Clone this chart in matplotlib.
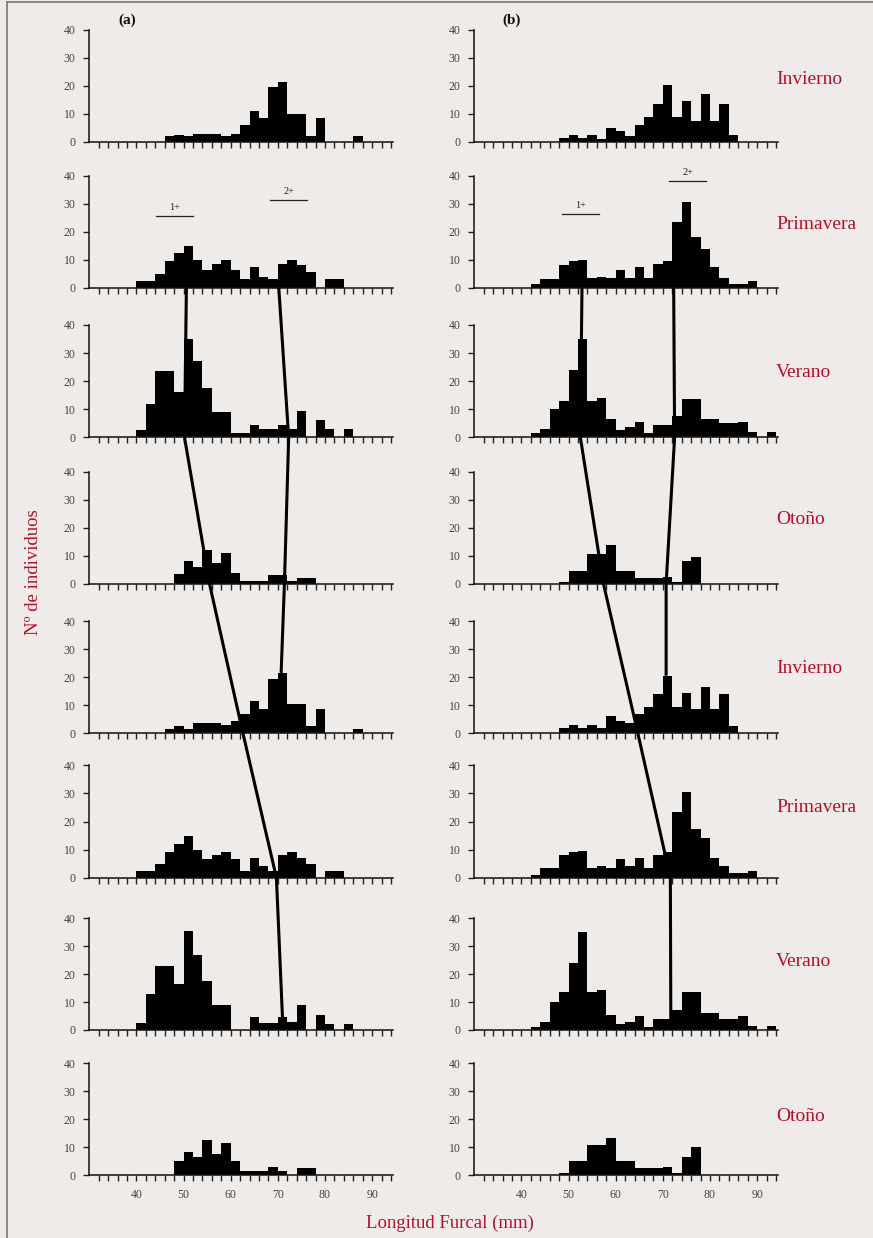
import numpy as np
import matplotlib
matplotlib.use("Agg")
import matplotlib.pyplot as plt
from matplotlib.patches import ConnectionPatch
from matplotlib.lines import Line2D

plt.rcParams["font.family"] = ["Liberation Serif", "DejaVu Serif"]

# 2 mm length classes, left edges 40..92
bin_left = np.arange(40, 94, 2)

# column (a)
a_invierno_1 = [0, 0, 0, 2, 2.5, 2, 3, 3, 3, 2, 3, 6, 11, 8.5, 19.5, 21.5, 10, 10, 2, 8.5, 0, 0, 0, 2, 0, 0, 0]
a_primavera_1 = [2.5, 2.5, 5, 9.5, 12.5, 15, 10, 6.5, 8.5, 10, 6.5, 3, 7.5, 4, 3, 8.5, 10, 8, 5.5, 0, 3, 3, 0, 0, 0, 0, 0]
a_verano_1 = [2.5, 12, 23.5, 23.5, 16, 35, 27, 17.5, 9, 9, 1.5, 1.5, 4.5, 3, 3, 4.5, 3, 9.5, 0, 6, 3, 0, 3, 0, 0, 0, 0]
a_otono_1 = [0, 0, 0, 0, 3.5, 8, 6, 12, 7.5, 11, 4, 1, 1, 1, 3, 3, 1, 2, 2, 0, 0, 0, 0, 0, 0, 0, 0]
a_invierno_2 = [0, 0, 0, 1.5, 2.5, 1.5, 3.5, 3.5, 3.5, 3, 4.5, 7, 11.5, 8.5, 19.5, 21.5, 10.5, 10.5, 2.5, 8.5, 0, 0, 0, 1.5, 0, 0, 0]
a_primavera_2 = [2.5, 2.5, 5, 9, 12, 15, 10, 6.5, 8, 9, 6.5, 2.5, 7, 4, 2.5, 8, 9, 7, 5, 0, 2.5, 2.5, 0, 0, 0, 0, 0]
a_verano_2 = [2.5, 13, 23, 23, 16.5, 35.5, 27, 17.5, 9, 9, 0, 0, 4.5, 2.5, 2.5, 4.5, 3, 9, 0, 5.5, 2, 0, 2, 0, 0, 0, 0]
a_otono_2 = [0, 0, 0, 0, 5, 8.5, 6.5, 12.5, 7.5, 11.5, 5, 1.5, 1.5, 1.5, 3, 1.5, 0, 2.5, 2.5, 0, 0, 0, 0, 0, 0, 0, 0]

# column (b)
b_invierno_1 = [0, 0, 0, 0, 1.5, 2.5, 1.5, 2.5, 1, 5, 4, 2, 6, 9, 13.5, 20.5, 9, 14.5, 7.5, 17, 7.5, 13.5, 2.5, 0, 0, 0, 0]
b_primavera_1 = [0, 1.5, 3, 3, 8, 9.5, 10, 3.5, 4, 3.5, 6.5, 3.5, 7.5, 3.5, 8.5, 9.5, 23.5, 30.5, 18, 14, 7.5, 3.5, 1.5, 1.5, 2.5, 0, 0]
b_verano_1 = [0, 1.5, 3, 10, 13, 24, 35, 13, 14, 6.5, 2.5, 3.5, 5.5, 1.5, 4.5, 4.5, 7.5, 13.5, 13.5, 6.5, 6.5, 5, 5, 5.5, 2, 0, 2]
b_otono_1 = [0, 0, 0, 0, 0.5, 4.5, 4.5, 10.5, 10.5, 14, 4.5, 4.5, 2, 2, 2, 2.5, 0.5, 8, 9.5, 0, 0, 0, 0, 0, 0, 0, 0]
b_invierno_2 = [0, 0, 0, 0, 2, 3, 2, 3, 2, 6, 4.5, 3.5, 7, 9.5, 14, 20.5, 9.5, 14.5, 8.5, 16.5, 8.5, 14, 2.5, 0, 0, 0, 0]
b_primavera_2 = [0, 1, 3.5, 3.5, 8, 9, 9.5, 3.5, 4, 3.5, 6.5, 4, 7, 3.5, 8, 9, 23.5, 30.5, 17.5, 14, 7, 4, 1.5, 1.5, 2.5, 0, 0]
b_verano_2 = [0, 1, 3, 10, 13.5, 24, 35, 13.5, 14.5, 5.5, 2, 3, 5, 1, 4, 4, 7, 13.5, 13.5, 6, 6, 4, 4, 5, 1.5, 0, 1.5]
b_otono_2 = [0, 0, 0, 0, 1, 5, 5, 11, 11, 13.5, 5, 5, 2.5, 2.5, 2.5, 3, 1, 6.5, 10, 0, 0, 0, 0, 0, 0, 0, 0]

col_a = [a_invierno_1, a_primavera_1, a_verano_1, a_otono_1,
         a_invierno_2, a_primavera_2, a_verano_2, a_otono_2]
col_b = [b_invierno_1, b_primavera_1, b_verano_1, b_otono_1,
         b_invierno_2, b_primavera_2, b_verano_2, b_otono_2]

seasons = ["Invierno", "Primavera", "Verano", "Otoño",
           "Invierno", "Primavera", "Verano", "Otoño"]

# modal progression of each cohort: (row, length mm, count)
a_cohort_1 = [(1, 50.6, 0), (2, 50.2, 0), (3, 55.5, 0), (4, 62.6, 0), (5, 69.7, 0), (6, 71.1, 0)]
a_cohort_2 = [(1, 70.2, 0), (2, 72.3, 0), (3, 71.4, 0), (4, 70.7, 21.5)]
b_cohort_1 = [(1, 52.85, 0), (2, 52.5, 0), (3, 57.4, 0), (4, 64.7, 0), (5, 71.6, 0), (6, 71.7, 0)]
b_cohort_2 = [(1, 72.3, 0), (2, 72.5, 0), (3, 70.7, 0), (4, 70.7, 20.5)]

# age-class markers on the spring panel: (label, x0, x1, y)
a_ages = [("1+", 44.2, 52.0, 25.7), ("2+", 68.4, 76.2, 31.4)]
b_ages = [("1+", 48.6, 56.5, 26.2), ("2+", 71.4, 79.2, 38.1)]

W, H = 873, 1238
BG = "#eeebe8"
RED = "#b3102b"
GREY = "#444444"

fig = plt.figure(figsize=(W / 100, H / 100), dpi=100, facecolor=BG)

baselines = [142, 287.7, 437.3, 583.7, 733.3, 877.7, 1030, 1175.3]
tops = [30, 175.7, 325, 472, 621, 765.3, 918.3, 1063.3]
lefts = [89.3, 474.3]
width = 304
season_y = [22.5, 22.5, 23, 23, 23, 25, 24.5, 21]


def make_axes(left, base, top):
    ax = fig.add_axes([left / W, 1 - base / H, width / W, (base - top) / H])
    ax.set_facecolor("none")
    ax.set_xlim(30, 94.5)
    ax.set_ylim(0, 40)
    for s in ("top", "right"):
        ax.spines[s].set_visible(False)
    for s in ("left", "bottom"):
        ax.spines[s].set_linewidth(1.1)
        ax.spines[s].set_color("#111111")
    ax.set_xticks(np.arange(32, 95, 2))
    ax.set_xticklabels([])
    ax.set_yticks([0, 10, 20, 30, 40])
    ax.tick_params(axis="x", direction="out", length=4, width=1.0, color="#222222")
    ax.tick_params(axis="y", direction="out", length=4, width=1.0, color="#222222",
                   labelsize=8.5, labelcolor=GREY, pad=6)
    return ax


axes = [[], []]
for c, (left, data) in enumerate(zip(lefts, [col_a, col_b])):
    for r in range(8):
        ax = make_axes(left, baselines[r], tops[r])
        ax.bar(bin_left, data[r], width=2, align="edge", color="black", linewidth=0)
        axes[c].append(ax)
    bottom = axes[c][-1]
    bottom.set_xticklabels([str(v) if v % 10 == 0 and 40 <= v <= 90 else "" for v in range(32, 95, 2)])
    bottom.tick_params(axis="x", labelsize=8.5, labelcolor=GREY, pad=6)

# age classes on the first spring panel
for c, ages in enumerate([a_ages, b_ages]):
    ax = axes[c][1]
    for label, x0, x1, y in ages:
        ax.plot([x0, x1], [y, y], color="#222222", lw=0.9, clip_on=False)
        ax.text((x0 + x1) / 2, y + 1.4, label, ha="center", va="bottom",
                fontsize=7.5, color="#222222", clip_on=False)

# cohort tracking lines across panels
for c, cohorts in enumerate([[a_cohort_1, a_cohort_2], [b_cohort_1, b_cohort_2]]):
    for pts in cohorts:
        for (r0, x0, y0), (r1, x1, y1) in zip(pts[:-1], pts[1:]):
            con = ConnectionPatch(xyA=(x0, y0), coordsA="data", axesA=axes[c][r0],
                                  xyB=(x1, y1), coordsB="data", axesB=axes[c][r1],
                                  color="black", lw=2.2, capstyle="butt", zorder=10)
            fig.add_artist(con)

# season names to the right of column (b)
for r, name in enumerate(seasons):
    axes[1][r].text(94.0, season_y[r], name, ha="left", va="center", fontsize=14,
                    color=RED, clip_on=False)

fig.text(127 / W, 1 - 20 / H, "(a)", ha="center", va="center", fontsize=11,
         fontweight="bold", color="#111111")
fig.text(512 / W, 1 - 20 / H, "(b)", ha="center", va="center", fontsize=11,
         fontweight="bold", color="#111111")

fig.text(33 / W, 1 - 572 / H, "Nº de individuos", rotation=90, ha="center",
         va="center", fontsize=13.5, color=RED)
fig.text(450 / W, 1 - 1223 / H, "Longitud Furcal (mm)", ha="center",
         va="center", fontsize=13.5, color=RED)

# page frame
fig.add_artist(Line2D([7 / W, 7 / W], [0, 1 - 1.5 / H], transform=fig.transFigure,
                      color="#777777", lw=1.2))
fig.add_artist(Line2D([7 / W, 1], [1 - 1.5 / H, 1 - 1.5 / H], transform=fig.transFigure,
                      color="#777777", lw=1.2))

fig.savefig("out.png", dpi=100, facecolor=BG)
